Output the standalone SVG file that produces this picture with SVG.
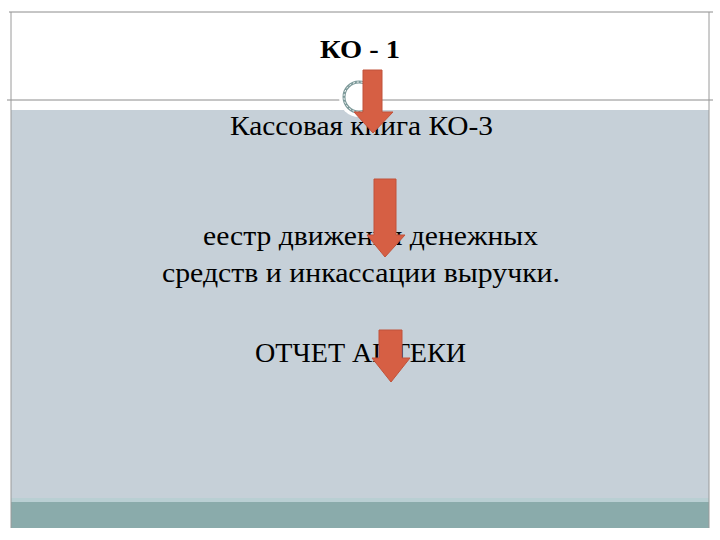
<svg xmlns="http://www.w3.org/2000/svg" width="720" height="540" viewBox="0 0 720 540">
<defs>
<style>
.t{font-family:"Liberation Serif","DejaVu Serif",serif;fill:#000}
.arr{fill:#d65f44;stroke:#c0533b;stroke-width:1}
</style>
</defs>
<rect width="720" height="540" fill="#fff"/>
<g id="frame">
<rect x="11" y="110" width="698" height="392" fill="#c6d0d8"/>
<rect x="11" y="498" width="698" height="4" fill="#b9cfd3"/>
<rect x="11" y="502" width="698" height="26" fill="#8aabab"/>
<line x1="9" y1="12" x2="713" y2="12" stroke="#8c8c8c" stroke-width="1"/>
<line x1="7" y1="100" x2="713" y2="100" stroke="#8c8c8c" stroke-width="1"/>
<line x1="11" y1="12" x2="11" y2="528" stroke="#9a9a9a" stroke-width="1"/>
<line x1="709" y1="12" x2="709" y2="528" stroke="#9a9a9a" stroke-width="1"/>
<circle cx="359" cy="97" r="20" fill="#fff"/>
<circle cx="359" cy="97" r="15" fill="none" stroke="#7d9a9a" stroke-width="3"/>
<circle cx="359" cy="97" r="15" fill="none" stroke="#fff" stroke-width="1" stroke-dasharray="2 2"/>
</g>
<g id="n1"><text class="t" x="320" y="58" font-size="25" font-weight="bold" textLength="80" lengthAdjust="spacingAndGlyphs">КО - 1</text></g>
<g id="n2"><text class="t" x="230" y="135" font-size="27" textLength="263" lengthAdjust="spacingAndGlyphs">Кассовая книга КО-3</text></g>
<g id="n3"><text class="t" x="203" y="245" font-size="27" textLength="335" lengthAdjust="spacingAndGlyphs">еестр движения денежных</text>
<text class="t" x="162" y="282" font-size="27" textLength="398" lengthAdjust="spacingAndGlyphs">средств и инкассации выручки.</text></g>
<g id="n4"><text class="t" x="255" y="362" font-size="27" textLength="211" lengthAdjust="spacingAndGlyphs">ОТЧЕТ АПТЕКИ</text></g>
<g id="connectors">
<polygon class="arr" points="363,70 382,70 382,112 393,112 373,133 354,112 363,112"/>
<polygon class="arr" points="374,179 396,179 396,235 405,235 385,257 367,235 374,235"/>
<polygon class="arr" points="379,330 402,330 402,358 410,358 391,382 372,358 379,358"/>
</g>
</svg>
